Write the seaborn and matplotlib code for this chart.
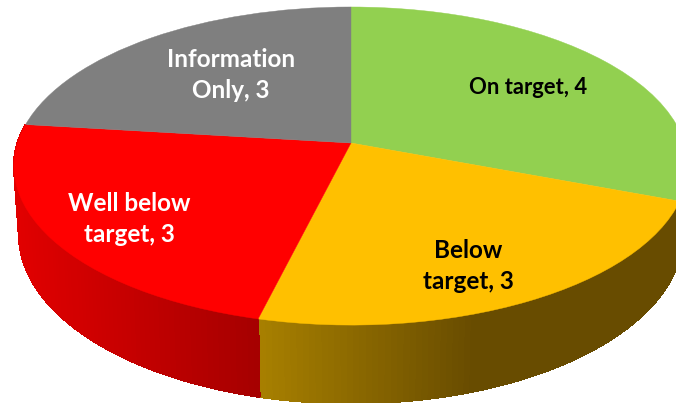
import numpy as np
import matplotlib
matplotlib.use("Agg")
import matplotlib.pyplot as plt
from matplotlib.transforms import Transform
from matplotlib.patches import Polygon
import seaborn as sns

categories = ["On target", "Below\ntarget", "Well below\ntarget", "Information\nOnly"]
values = [4, 3, 3, 3]
top_colors = ["#92D050", "#FFC000", "#FF0000", "#7F7F7F"]
text_colors = ["black", "black", "white", "white"]
label_px = [(528, 88), (468, 266), (129, 219), (231, 75)]
label_sizes = [15.8, 17.5, 17.5, 17.5]

CX, CY, RX, RY, K, DEPTH = 351.0, 143.0, 333.5, 155.7, 0.1447, 67.0


class Perspective(Transform):
    input_dims = output_dims = 2
    is_affine = False

    def transform_non_affine(self, xy):
        xy = np.asarray(xy, float)
        w = 1 + K * xy[:, 1]
        return np.column_stack([CX + RX * xy[:, 0] / w, CY - RY * xy[:, 1] / w])


def side_color(name, x):
    if name == 0:
        return (0.36, 0.50, 0.20)
    if name == 1:
        t = np.clip((x - 258) / 215, 0, 1)
        return ((168 - 64 * t) / 255, (128 - 52 * t) / 255, 0)
    t = np.clip((x - 15) / 243, 0, 1)
    return ((225 - 60 * t) / 255, 0, 0)


sns.set_theme(style="white")
plt.rcParams["font.family"] = ["Lato", "DejaVu Sans"]

fig = plt.figure(figsize=(6.76, 4.03), dpi=100)
ax = fig.add_axes([0, 0, 1, 1])
wedges, _ = ax.pie(values, startangle=90, counterclock=False, colors=top_colors, radius=1)
ax.set_aspect("auto")
ax.set_xlim(0, 676)
ax.set_ylim(403, 0)
ax.axis("off")

persp = Perspective()
for wedge in wedges:
    wedge.set_transform(persp + ax.transData)
    wedge.set_zorder(5)
    wedge.set_edgecolor(wedge.get_facecolor())
    wedge.set_linewidth(0.3)

# Extruded rim, drawn from the same slice angles as the pie
shares = np.cumsum([0] + values) / sum(values)
angles = np.pi / 2 - 2 * np.pi * shares
for i in range(3):
    lo = angles[i]
    hi = angles[i + 1]
    if i == 2:
        hi = max(hi, np.radians(-188.5))
    if i == 0:
        lo = np.radians(-5)
    steps = np.linspace(lo, hi, 90)
    for a0, a1 in zip(steps[:-1], steps[1:]):
        a = np.array([a0, a1])
        uv = np.column_stack([np.cos(a), np.sin(a)])
        top = persp.transform(uv)
        w = 1 + K * uv[:, 1]
        bottom = np.column_stack([CX + (top[:, 0] - CX) * 0.985, top[:, 1] + DEPTH / w])
        c = side_color(i, top[:, 0].mean())
        ax.add_patch(Polygon(np.vstack([top, bottom[::-1]]), closed=True,
                             facecolor=c, edgecolor=c, linewidth=0.8,
                             antialiased=False, zorder=2))

for name, v, (x, y), tc, fs in zip(categories, values, label_px, text_colors, label_sizes):
    ax.text(x, y, f"{name}, {v}", ha="center", va="center", color=tc,
            fontsize=fs, fontweight="bold", linespacing=1.45, zorder=10)

fig.savefig("out.png", dpi=100)
